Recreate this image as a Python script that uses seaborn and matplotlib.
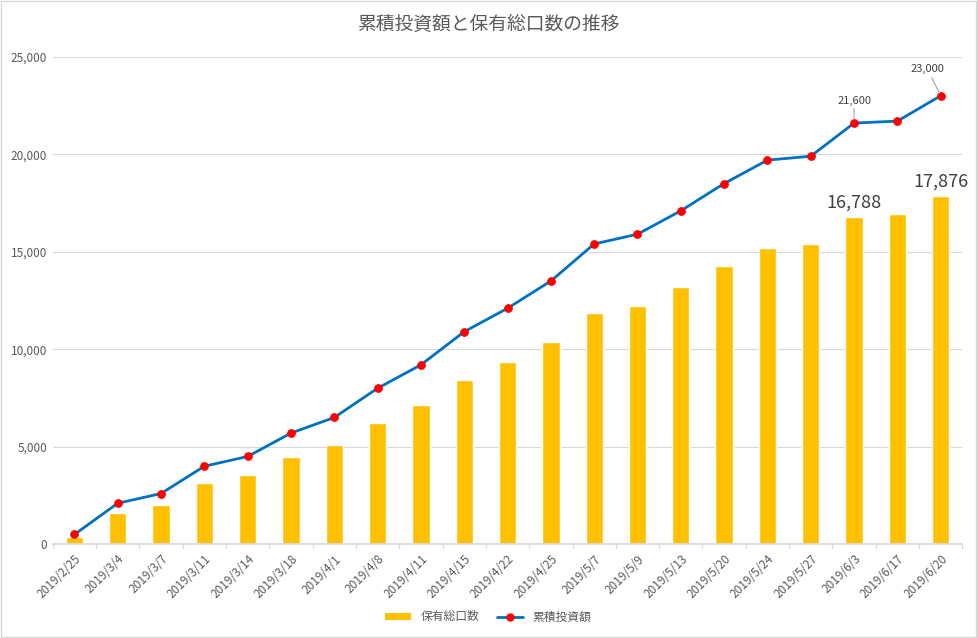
import numpy as np
import pandas as pd
import matplotlib
matplotlib.use("Agg")
import matplotlib.pyplot as plt
import seaborn as sns
from matplotlib.lines import Line2D
from matplotlib.patches import Patch, Rectangle

dates = ["2019/2/25", "2019/3/4", "2019/3/7", "2019/3/11", "2019/3/14", "2019/3/18",
         "2019/4/1", "2019/4/8", "2019/4/11", "2019/4/15", "2019/4/22", "2019/4/25",
         "2019/5/7", "2019/5/9", "2019/5/13", "2019/5/20", "2019/5/24", "2019/5/27",
         "2019/6/3", "2019/6/17", "2019/6/20"]
units = [380, 1600, 2000, 3140, 3550, 4480, 5090, 6220, 7150, 8430, 9350, 10380,
         11870, 12230, 13200, 14280, 15210, 15410, 16788, 16950, 17876]
invest = [500, 2100, 2600, 4000, 4500, 5700, 6500, 8000, 9200, 10900, 12100, 13500,
          15400, 15900, 17100, 18500, 19700, 19900, 21600, 21700, 23000]

title = "累積投資額と保有総口数の推移"
bar_name = "保有総口数"
line_name = "累積投資額"

sns.set_theme(style="white")
plt.rcParams['font.family'] = ['Noto Sans CJK JP', 'DejaVu Sans']

df = pd.DataFrame({"date": dates, "units": units, "invest": invest, "pos": np.arange(len(dates))})

fig = plt.figure(figsize=(9.77, 6.38), dpi=100)
ax = fig.add_axes([0.054, 0.147, 0.931, 0.764])

sns.barplot(data=df, x="date", y="units", color="#FFC000", saturation=1, width=0.4, ax=ax, zorder=2)
sns.lineplot(data=df, x="pos", y="invest", color="#0070C0", linewidth=2.0, ax=ax, zorder=3,
             marker="o", markersize=5.5, markerfacecolor="#FF0000", markeredgecolor="#FF0000")

ax.set_xlim(-0.5, len(dates) - 0.5)
ax.set_ylim(0, 25000)
ax.set_yticks(np.arange(0, 25001, 5000))
ax.yaxis.set_major_formatter(matplotlib.ticker.FuncFormatter(lambda v, p: f"{int(v):,}"))
ax.grid(axis="y", color="#D9D9D9", linewidth=0.8, zorder=0)
ax.set_axisbelow(True)
ax.set_xlabel("")
ax.set_ylabel("")
ax.set_xticks(np.arange(len(dates)))
ax.set_xticklabels(dates, rotation=45, ha="right", rotation_mode="anchor", fontsize=8.5, color="#595959")
ax.tick_params(axis="y", labelsize=8.5, labelcolor="#595959", length=0, pad=4)
ax.tick_params(axis="x", length=0, pad=6)
for s in ["top", "right", "left"]:
    ax.spines[s].set_visible(False)
ax.spines["bottom"].set_color("#D9D9D9")
# category boundary ticks
for b in np.arange(-0.5, len(dates), 1.0):
    ax.plot([b, b], [0, -200], color="#D9D9D9", linewidth=0.8, clip_on=False, zorder=1)

# bar labels for last points
for i in [18, 20]:
    ax.text(i, units[i] + 250, f"{units[i]:,}", ha="center", va="bottom", fontsize=13, color="#404040")

# line labels with leader lines
for i, (dx, dy) in zip([18, 20], [(0, 900), (-0.3, 1100)]):
    tx, ty = i + dx, invest[i] + dy
    ax.annotate(f"{invest[i]:,}", xy=(i, invest[i]), xytext=(tx, ty), ha="center", va="bottom",
                fontsize=8, color="#404040",
                arrowprops=dict(arrowstyle="-", color="#A6A6A6", linewidth=0.8, shrinkA=0, shrinkB=3))

fig.text(0.5, 0.962, title, ha="center", va="center", fontsize=13.5, color="#595959")

handles = [Patch(facecolor="#FFC000", edgecolor="none"),
           Line2D([0], [0], color="#0070C0", linewidth=2.0, marker="o", markersize=5,
                  markerfacecolor="#FF0000", markeredgecolor="#FF0000")]
leg = fig.legend(handles, [bar_name, line_name], loc="center", bbox_to_anchor=(0.5, 0.033),
                 ncol=2, frameon=False, fontsize=8.5, handlelength=2.2, columnspacing=1.5,
                 handleheight=0.5)
for t in leg.get_texts():
    t.set_color("#595959")

fig.patches.append(Rectangle((0.001, 0.002), 0.998, 0.996, transform=fig.transFigure,
                             fill=False, edgecolor="#D9D9D9", linewidth=1))

fig.savefig("out.png", dpi=100)
